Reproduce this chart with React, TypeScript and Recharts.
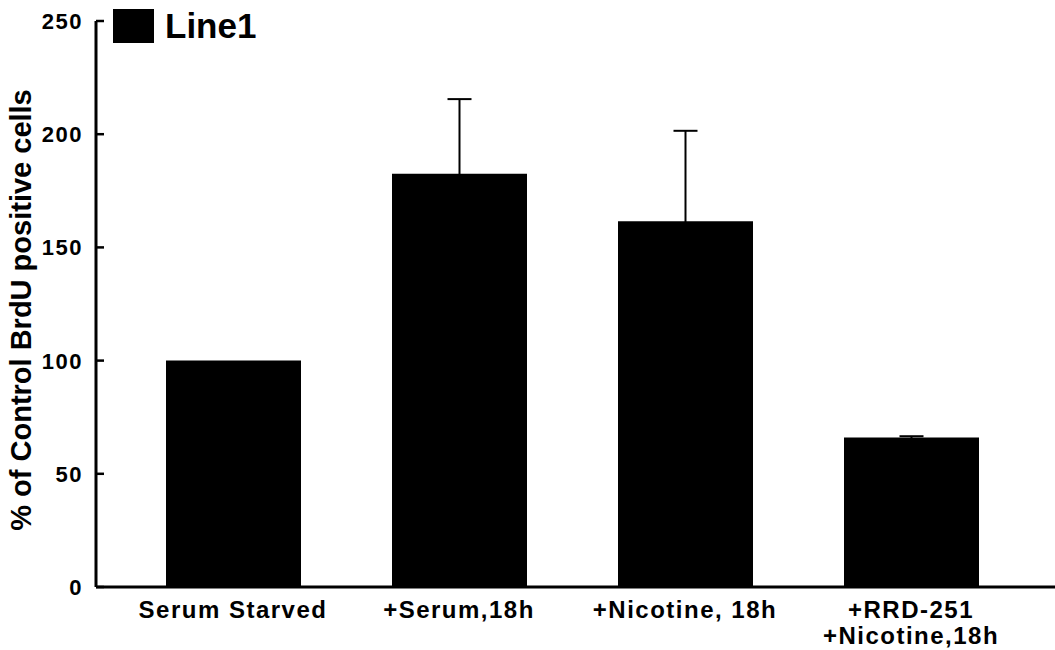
import { Bar, BarChart, ErrorBar, Legend, XAxis, YAxis } from "recharts";

const categories = ["Serum Starved", "+Serum,18h", "+Nicotine, 18h", "+RRD-251\n+Nicotine,18h"];
const brduValues = [100, 182.5, 161.5, 66];
const brduErrors = [null, 33, 40, 0.6];
const yTicks = [0, 50, 100, 150, 200, 250];

const FONT = '"Liberation Sans", Arial, sans-serif';

// one-sided (upward) error bars; lower end kept just inside the bar
const data = categories.map((name, i) => ({
  name,
  value: brduValues[i],
  err: brduErrors[i] == null ? null : [1, brduErrors[i]]
}));

function XTick({ x, y, payload }: any) {
  const lines = String(payload.value).split("\n");
  return (
    <text
      x={x}
      y={y}
      textAnchor="middle"
      fill="#000"
      fontFamily={FONT}
      fontWeight="bold"
      fontSize={24}
      letterSpacing={1.5}
    >
      {lines.map((line, i) => (
        <tspan key={i} x={x} dy={i === 0 ? 31 : 26}>
          {line}
        </tspan>
      ))}
    </text>
  );
}

function YTick({ x, y, payload }: any) {
  return (
    <g>
      <line x1={x} x2={x + 8} y1={y} y2={y} stroke="#000" strokeWidth={2.5} />
      <text
        x={x - 13}
        y={y}
        dy={8}
        textAnchor="end"
        fill="#000"
        fontFamily={FONT}
        fontWeight="bold"
        fontSize={22}
        letterSpacing={1.5}
      >
        {payload.value}
      </text>
    </g>
  );
}

function YLabel({ viewBox }: any) {
  const cx = 21;
  const cy = viewBox.y + viewBox.height / 2 + 6;
  return (
    <text
      x={cx}
      y={cy}
      transform={`rotate(-90, ${cx}, ${cy})`}
      textAnchor="middle"
      dominantBaseline="central"
      fill="#000"
      fontFamily={FONT}
      fontWeight="bold"
      fontSize={29}
    >
      % of Control BrdU positive cells
    </text>
  );
}

function LegendBox() {
  return (
    <div style={{ display: "flex", alignItems: "center", fontFamily: FONT }}>
      <span style={{ width: 41, height: 34, background: "#000", display: "inline-block" }} />
      <span style={{ marginLeft: 11, fontSize: 35, fontWeight: "bold", color: "#000", lineHeight: "34px" }}>
        Line1
      </span>
    </div>
  );
}

export default function App() {
  return (
    <div style={{ position: "absolute", left: 0, top: 0, width: 1055, height: 650, background: "#fff" }}>
      <BarChart width={1055} height={650} data={data} margin={{ top: 21, right: 0, left: 0, bottom: 0 }}>
        <XAxis
          dataKey="name"
          height={63}
          interval={0}
          padding={{ left: 24, right: 31 }}
          axisLine={{ stroke: "#000", strokeWidth: 3 }}
          tickLine={false}
          tickSize={0}
          tickMargin={0}
          tick={<XTick />}
        />
        <YAxis
          width={96}
          domain={[0, 250]}
          ticks={yTicks}
          interval={0}
          axisLine={{ stroke: "#000", strokeWidth: 3 }}
          tickLine={false}
          tickSize={0}
          tickMargin={0}
          tick={<YTick />}
          label={<YLabel />}
        />
        <Legend
          layout="horizontal"
          verticalAlign="middle"
          align="center"
          wrapperStyle={{ position: "absolute", top: 9, left: 113, width: "auto" }}
          content={<LegendBox />}
        />
        <Bar dataKey="value" name="Line1" fill="#000" barSize={135} isAnimationActive={false}>
          <ErrorBar dataKey="err" width={12} stroke="#000" strokeWidth={2} direction="y" />
        </Bar>
      </BarChart>
    </div>
  );
}
